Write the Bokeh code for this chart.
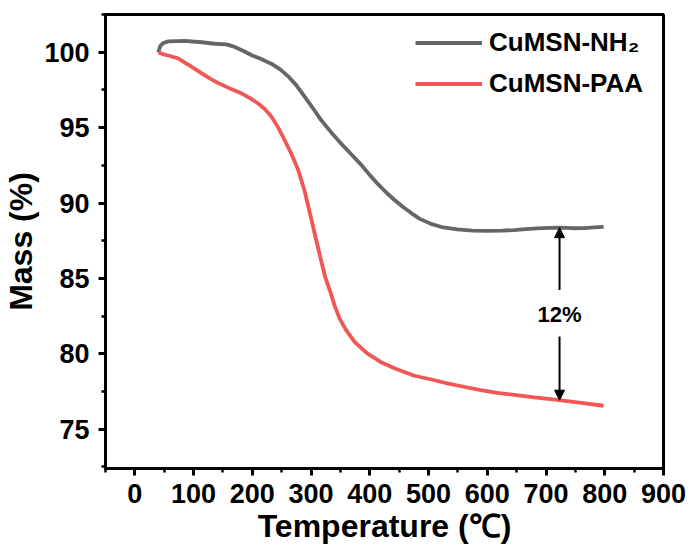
from bokeh.plotting import figure
from bokeh.models import (Range1d, FixedTicker, Legend, LegendItem, Arrow, NormalHead, Label)
from bokeh.embed import file_html
from bokeh.resources import INLINE
import numpy as np

# ---- data ----
nh2_temp = [40, 43, 48, 57, 85, 114, 136, 156, 170, 185, 199, 215, 233, 248, 261, 275,
            289, 303, 317, 334, 351, 368, 385, 400, 414, 428, 442, 456, 470, 485, 504,
            525, 549, 575, 600, 625, 646, 665, 685, 705, 725, 745, 765, 782, 798]
nh2_mass = [100.0, 100.4, 100.6, 100.72, 100.75, 100.66, 100.56, 100.52, 100.35, 100.08,
            99.8, 99.55, 99.22, 98.85, 98.4, 97.8, 97.05, 96.3, 95.5, 94.7, 93.95, 93.25,
            92.55, 91.85, 91.25, 90.7, 90.2, 89.75, 89.35, 88.95, 88.62, 88.38, 88.25,
            88.17, 88.15, 88.17, 88.21, 88.27, 88.32, 88.35, 88.37, 88.33, 88.34, 88.38,
            88.42]

paa_temp = [40, 49, 60, 74, 90, 104, 114, 128, 142, 162, 182, 196, 210, 222, 233, 244,
            255, 266, 278, 289, 300, 309, 317, 324, 332, 340, 349, 360, 374, 395, 419,
            445, 476, 505, 532, 560, 589, 617, 646, 680, 719, 760, 798]
paa_mass = [100.0, 99.85, 99.75, 99.58, 99.2, 98.85, 98.6, 98.25, 97.95, 97.6, 97.26,
            96.95, 96.6, 96.2, 95.7, 95.0, 94.17, 93.3, 92.2, 90.8, 89.0, 87.5, 86.2,
            85.1, 84.2, 83.2, 82.3, 81.55, 80.8, 80.05, 79.45, 79.0, 78.55, 78.3, 78.05,
            77.82, 77.6, 77.42, 77.28, 77.12, 76.95, 76.75, 76.56]

series_labels = ["CuMSN-NH\u2082", "CuMSN-PAA"]
x_ticks = [0, 100, 200, 300, 400, 500, 600, 700, 800, 900]
y_ticks = [75, 80, 85, 90, 95, 100]
x_minor = [-50, 50, 150, 250, 350, 450, 550, 650, 750, 850]
y_minor = [72.5, 77.5, 82.5, 87.5, 92.5, 97.5, 102.5]
diff_temp = 723
diff_text = "12%"
diff_text_y = 82.6

FONT = "Liberation Sans"
GRAY = "#666666"
RED = "#f25757"

p = figure(width=694, height=553, output_backend="svg", toolbar_location=None,
           x_range=Range1d(-50, 900), y_range=Range1d(72.4, 102.5),
           min_border_left=103, min_border_right=31, min_border_top=14,
           min_border_bottom=85)
p.background_fill_color = "white"
p.border_fill_color = "white"
p.xgrid.visible = False
p.ygrid.visible = False
p.outline_line_color = "black"
p.outline_line_width = 3

for ax in (p.xaxis[0], p.yaxis[0]):
    ax.axis_line_width = 3
    ax.axis_line_color = "black"
    ax.major_tick_line_width = 3
    ax.major_tick_out = 7
    ax.major_tick_in = 0
    ax.minor_tick_line_width = 2.5
    ax.minor_tick_out = 4
    ax.minor_tick_in = 0
    ax.major_label_text_font = FONT
    ax.major_label_text_font_style = "bold"
    ax.major_label_text_font_size = "27px"
    ax.major_label_text_color = "black"
    ax.axis_label_text_font = FONT
    ax.axis_label_text_font_style = "bold"
    ax.axis_label_text_font_size = "32px"
    ax.axis_label_text_color = "black"

p.xaxis.ticker = FixedTicker(ticks=x_ticks, minor_ticks=x_minor)
p.yaxis.ticker = FixedTicker(ticks=y_ticks, minor_ticks=y_minor)
p.xaxis.axis_label = "Temperature (\u2103)"
p.yaxis.axis_label = "Mass (%)"
p.xaxis.major_label_standoff = 8
p.yaxis.major_label_standoff = 9
p.xaxis.axis_label_standoff = 2
p.yaxis.axis_label_standoff = 2

r1 = p.line(nh2_temp, nh2_mass, line_color=GRAY, line_width=3.8, line_join="round")
r2 = p.line(paa_temp, paa_mass, line_color=RED, line_width=3.8, line_join="round")

legend = Legend(items=[LegendItem(label=series_labels[0], renderers=[r1]),
                       LegendItem(label=series_labels[1], renderers=[r2])],
                location=(310, 364), padding=0, margin=0, spacing=0,
                glyph_width=67, glyph_height=41, label_height=41,
                label_standoff=7, border_line_color=None,
                background_fill_alpha=0)
legend.label_text_font = FONT
legend.label_text_font_style = "bold"
legend.label_text_font_size = "26px"
legend.label_text_color = "black"
p.add_layout(legend)

# difference annotation
top_val = float(np.interp(diff_temp, nh2_temp, nh2_mass))
bot_val = float(np.interp(diff_temp, paa_temp, paa_mass))
p.add_layout(Arrow(end=NormalHead(size=10, fill_color="black", line_color="black"),
                   x_start=diff_temp, y_start=diff_text_y + 1.64, x_end=diff_temp,
                   y_end=top_val, line_width=2, line_color="black"))
p.add_layout(Arrow(end=NormalHead(size=10, fill_color="black", line_color="black"),
                   x_start=diff_temp, y_start=diff_text_y - 1.45, x_end=diff_temp,
                   y_end=bot_val, line_width=2, line_color="black"))
p.add_layout(Label(x=diff_temp, y=diff_text_y, text=diff_text, text_align="center",
                   text_baseline="middle", text_font=FONT, text_font_style="bold",
                   text_font_size="22px", text_color="black"))

open("out.html", "w").write(file_html(p, INLINE))
